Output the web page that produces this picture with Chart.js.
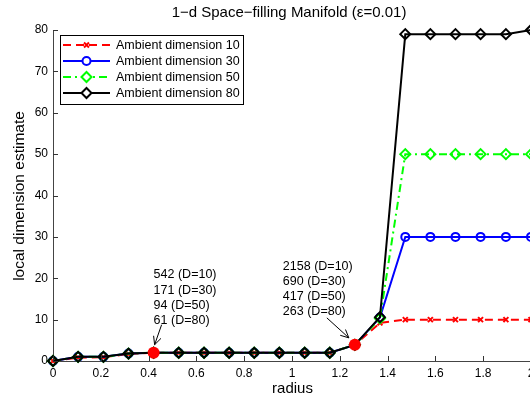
<!DOCTYPE html>
<html><head><meta charset="utf-8">
<script src="https://cdn.jsdelivr.net/npm/chart.js@4/dist/chart.umd.min.js"></script>
<style>html,body{margin:0;padding:0;background:#fff;overflow:hidden;width:530px;height:400px}</style>
</head><body>
<canvas id="c" width="560" height="400"></canvas>
<script>
// ---- data ----
const radius = [0, 0.105, 0.211, 0.316, 0.421, 0.526, 0.632, 0.737, 0.842, 0.947, 1.053, 1.158, 1.263, 1.368, 1.474, 1.579, 1.684, 1.789, 1.895, 2];
const dim10 = [0, 0.8, 0.9, 1.7, 2, 2, 2, 2, 2, 2, 2, 2, 3.9, 9.2, 10, 10, 10, 10, 10, 10];
const dim30 = [0, 1, 1, 1.8, 2, 2, 2, 2, 2, 2, 2, 2, 3.9, 10.5, 30, 30, 30, 30, 30, 30];
const dim50 = [0, 1, 1, 1.8, 2, 2, 2, 2, 2, 2, 2, 2, 3.9, 10.3, 50, 50, 50, 50, 50, 50];
const dim80 = [0, 1, 1, 1.8, 2, 2, 2, 2, 2, 2, 2, 2, 3.9, 10.6, 79, 79, 79, 79, 79, 80];
const seriesNames = ['Ambient dimension 10', 'Ambient dimension 30', 'Ambient dimension 50', 'Ambient dimension 80'];
const xTicks = [0, 0.2, 0.4, 0.6, 0.8, 1, 1.2, 1.4, 1.6, 1.8, 2];
const yTicks = [0, 10, 20, 30, 40, 50, 60, 70, 80];
const markedIdx = [4, 12];
const annotTexts = [
  ['542 (D=10)', '171 (D=30)', '94 (D=50)', '61 (D=80)'],
  ['2158 (D=10)', '690 (D=30)', '417 (D=50)', '263 (D=80)']
];
const titleText = '1\u2212d Space\u2212filling Manifold (\u03b5=0.01)';
const xLabel = 'radius';
const yLabel = 'local dimension estimate';

const FONT = '"Liberation Sans", Arial, Helvetica, sans-serif';
const pts = arr => arr.map((v, i) => ({x: radius[i], y: v}));

const styles = [
  {color: '#ff0000', dash: [8, 5], point: 'crossRot', r: 3.5, bw: 2},
  {color: '#0000ff', dash: [], point: 'circle', r: 4, bw: 2},
  {color: '#00ff00', dash: [8, 4, 2, 4], point: 'rectRot', r: 5, bw: 2},
  {color: '#000000', dash: [], point: 'rectRot', r: 5, bw: 2}
];
const series = [dim10, dim30, dim50, dim80];

const datasets = series.map((s, k) => ({
  label: seriesNames[k],
  data: pts(s),
  showLine: true,
  borderColor: styles[k].color,
  backgroundColor: 'rgba(0,0,0,0)',
  borderWidth: styles[k].bw,
  borderDash: styles[k].dash,
  pointStyle: styles[k].point,
  pointRadius: styles[k].r,
  pointBorderWidth: 2,
  pointBorderColor: styles[k].color,
  pointBackgroundColor: 'rgba(0,0,0,0)',
  tension: 0,
  clip: false,
  order: 4 - k
}));
datasets.push({
  label: 'marked',
  data: markedIdx.map(i => ({x: radius[i], y: dim80[i]})),
  showLine: false,
  pointStyle: 'circle',
  pointRadius: 6,
  pointBackgroundColor: '#ff0000',
  pointBorderColor: '#ff0000',
  pointBorderWidth: 0,
  clip: false,
  order: -1
});

const decor = {
  id: 'decor',
  afterDraw(chart) {
    const ctx = chart.ctx, a = chart.chartArea;
    const xs = chart.scales.x, ys = chart.scales.y;
    ctx.save();
    // inward ticks
    ctx.strokeStyle = '#333'; ctx.lineWidth = 1;
    xTicks.forEach(v => {
      const px = Math.round(xs.getPixelForValue(v)) + 0.5;
      ctx.beginPath(); ctx.moveTo(px, a.bottom); ctx.lineTo(px, a.bottom - 5); ctx.stroke();
    });
    yTicks.forEach(v => {
      const py = Math.round(ys.getPixelForValue(v)) + 0.5;
      ctx.beginPath(); ctx.moveTo(a.left, py); ctx.lineTo(a.left + 5, py); ctx.stroke();
    });
    // title & axis labels
    ctx.fillStyle = '#000';
    ctx.textAlign = 'center'; ctx.textBaseline = 'middle';
    ctx.font = '15px ' + FONT;
    ctx.fillText(titleText, 289, 13);
    ctx.font = '15px ' + FONT;
    ctx.fillText(xLabel, 292.5, 389);
    ctx.save();
    ctx.translate(20, 196);
    ctx.rotate(-Math.PI / 2);
    ctx.font = '15.5px ' + FONT;
    ctx.fillText(yLabel, 0, 0);
    ctx.restore();

    // annotations
    const annotGeom = [
      {tx: 0, ty: [-78, -62, -47, -32], ax0: [8, -28], ax1: [1, -8]},
      {tx: -72, ty: [-78, -63, -48, -33], ax0: [-28, -27], ax1: [-6, -7]}
    ];
    ctx.font = '12.5px ' + FONT;
    ctx.textAlign = 'left';
    markedIdx.forEach((idx, j) => {
      const px = xs.getPixelForValue(radius[idx]);
      const py = ys.getPixelForValue(dim80[idx]);
      const g = annotGeom[j];
      annotTexts[j].forEach((t, r) => ctx.fillText(t, px + g.tx, py + g.ty[r]));
      const x0 = px + g.ax0[0], y0 = py + g.ax0[1], x1 = px + g.ax1[0], y1 = py + g.ax1[1];
      ctx.strokeStyle = '#000'; ctx.lineWidth = 1;
      ctx.beginPath(); ctx.moveTo(x0, y0); ctx.lineTo(x1, y1); ctx.stroke();
      const ang = Math.atan2(y1 - y0, x1 - x0), L = 9;
      ctx.beginPath();
      ctx.moveTo(x1 - L * Math.cos(ang - 0.45), y1 - L * Math.sin(ang - 0.45));
      ctx.lineTo(x1, y1);
      ctx.lineTo(x1 - L * Math.cos(ang + 0.45), y1 - L * Math.sin(ang + 0.45));
      ctx.stroke();
    });

    // legend
    const lx = 60.5, ly = 35.5, lw = 183, lh = 69;
    ctx.fillStyle = '#fff';
    ctx.fillRect(lx, ly, lw, lh);
    ctx.strokeStyle = '#000'; ctx.lineWidth = 1; ctx.setLineDash([]);
    ctx.strokeRect(lx, ly, lw, lh);
    ctx.font = '12.5px ' + FONT;
    ctx.textBaseline = 'middle';
    seriesNames.forEach((name, k) => {
      const st = styles[k];
      const y = 45 + k * 16;
      ctx.strokeStyle = st.color; ctx.lineWidth = st.bw;
      ctx.setLineDash(st.dash);
      ctx.beginPath(); ctx.moveTo(63, y); ctx.lineTo(110, y); ctx.stroke();
      ctx.setLineDash([]);
      ctx.lineWidth = 2;
      ctx.fillStyle = '#fff';
      Chart.helpers.drawPoint(ctx, {pointStyle: st.point, radius: st.r, borderWidth: 2, rotation: 0}, 86.5, y);
      ctx.fillStyle = '#000';
      ctx.fillText(name, 116, y + 0.5);
    });
    ctx.restore();
  }
};

new Chart(document.getElementById('c'), {
  type: 'scatter',
  data: {datasets},
  options: {
    responsive: false,
    animation: false,
    devicePixelRatio: 1,
    layout: {padding: {top: 30, right: 29, left: 0, bottom: 0}},
    plugins: {legend: {display: false}, tooltip: {enabled: false}, title: {display: false}},
    elements: {line: {fill: false}},
    scales: {
      x: {
        type: 'linear', min: 0, max: 2,
        afterBuildTicks: s => { s.ticks = xTicks.map(v => ({value: v})); },
        afterFit: s => { s.height = 39; },
        grid: {display: false, drawTicks: false},
        border: {display: true, color: '#444', width: 1},
        ticks: {color: '#000', padding: 5, maxRotation: 0, autoSkip: false,
          font: {family: FONT, size: 12}, callback: v => String(+v.toFixed(1))}
      },
      y: {
        type: 'linear', min: 0, max: 80,
        afterBuildTicks: s => { s.ticks = yTicks.map(v => ({value: v})); },
        afterFit: s => { s.width = 53; },
        grid: {display: false, drawTicks: false},
        border: {display: true, color: '#444', width: 1},
        ticks: {color: '#000', padding: 5, font: {family: FONT, size: 12}}
      }
    }
  },
  plugins: [decor]
});
</script>
</body></html>
